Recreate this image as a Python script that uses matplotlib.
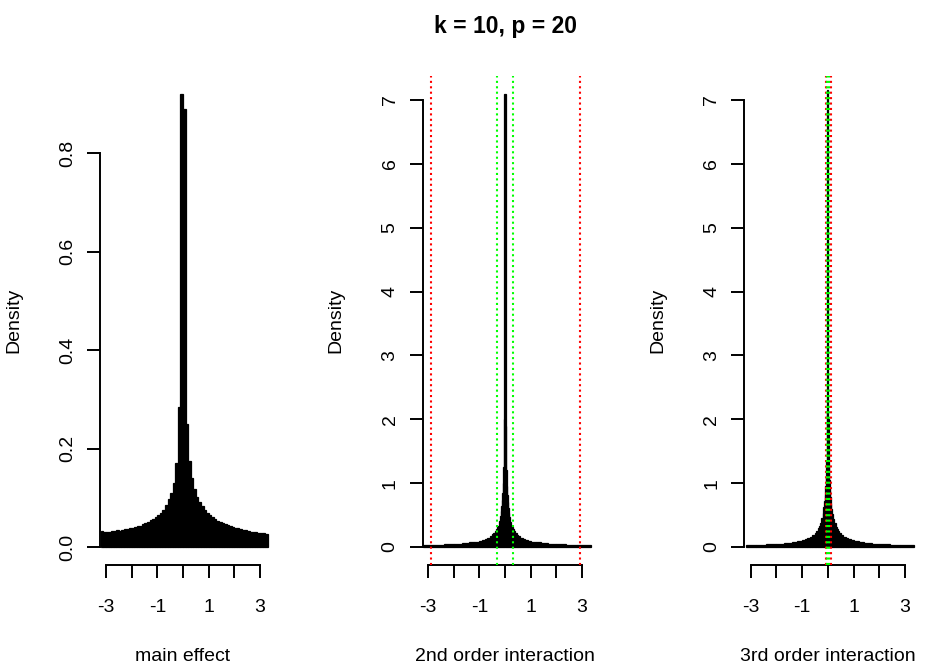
import matplotlib
matplotlib.use('Agg')
import matplotlib.pyplot as plt
import numpy as np

plt.rcParams['font.family'] = ['Liberation Sans', 'DejaVu Sans']

# main effect: density per bin, bins of 0.1 from -3.2 to 3.3
main_edges = [round(-3.2 + 0.1 * i, 2) for i in range(66)]
main_heights = [
    0.033, 0.030, 0.031, 0.030, 0.032, 0.033, 0.034, 0.033, 0.035, 0.036,
    0.037, 0.039, 0.038, 0.041, 0.043, 0.042, 0.046, 0.048, 0.050, 0.054,
    0.057, 0.060, 0.064, 0.070, 0.076, 0.085, 0.097, 0.110, 0.130, 0.170,
    0.285, 0.920, 0.890, 0.250, 0.175, 0.140, 0.118, 0.102, 0.092, 0.083,
    0.076, 0.070, 0.065, 0.060, 0.057, 0.053, 0.050, 0.048, 0.046, 0.044,
    0.042, 0.041, 0.039, 0.038, 0.036, 0.035, 0.034, 0.033, 0.031, 0.031,
    0.030, 0.029, 0.028, 0.029, 0.026,
]

# interaction histograms, bin edges (narrow near 0)
inter_edges = [
    -3.2, -2.8, -2.4, -2.0, -1.7, -1.4, -1.2, -1.0, -0.9, -0.8, -0.7, -0.6,
    -0.5, -0.45, -0.4, -0.35, -0.3, -0.25, -0.2, -0.17, -0.14, -0.12, -0.1,
    -0.08, -0.06, -0.04, -0.02,
    0.02, 0.04, 0.06, 0.08, 0.1, 0.12, 0.14, 0.17, 0.2, 0.25, 0.3,
    0.35, 0.4, 0.45, 0.5, 0.6, 0.7, 0.8, 0.9, 1.0, 1.2, 1.4, 1.7, 2.0,
    2.4, 2.8, 3.35,
]
second_heights = [
    0.030, 0.035, 0.042, 0.050, 0.060, 0.072, 0.085, 0.100, 0.112, 0.128,
    0.145, 0.170, 0.200, 0.225, 0.250, 0.285, 0.330, 0.400, 0.480, 0.560,
    0.640, 0.730, 0.850, 1.000, 1.250, 2.000,
    7.100,
    1.900, 1.200, 0.960, 0.820, 0.700, 0.610, 0.540, 0.470, 0.390,
    0.320, 0.280, 0.245, 0.220, 0.195, 0.165, 0.142, 0.125, 0.110, 0.098,
    0.084, 0.071, 0.060, 0.050, 0.042, 0.035, 0.030,
]
third_heights = [
    0.028, 0.033, 0.040, 0.050, 0.060, 0.075, 0.090, 0.108, 0.122, 0.140,
    0.160, 0.190, 0.225, 0.255, 0.290, 0.330, 0.380, 0.450, 0.540, 0.630,
    0.720, 0.820, 0.950, 1.100, 1.350, 2.100,
    7.150,
    2.000, 1.300, 1.050, 0.900, 0.780, 0.680, 0.600, 0.520, 0.440,
    0.370, 0.320, 0.280, 0.250, 0.220, 0.185, 0.158, 0.138, 0.120, 0.106,
    0.090, 0.074, 0.062, 0.052, 0.042, 0.035, 0.029,
]

# reference lines (red / green dotted)
second_red = [-2.89, 2.93]
second_green = [-0.30, 0.31]
third_red = [-0.09, 0.12]
third_green = [-0.03, 0.06]

x_ticks = [-3, -2, -1, 0, 1, 2, 3]
x_tick_labels = ['-3', '', '-1', '', '1', '', '3']
main_y_ticks = [0.0, 0.2, 0.4, 0.6, 0.8]
main_y_labels = ['0.0', '0.2', '0.4', '0.6', '0.8']
inter_y_ticks = [0, 1, 2, 3, 4, 5, 6, 7]
inter_y_labels = ['0', '1', '2', '3', '4', '5', '6', '7']

title = 'k = 10, p = 20'
x_labels = ['main effect', '2nd order interaction', '3rd order interaction']

W, H = 930, 668
AX_W = 172
AX_BOTTOM, AX_TOP = 565, 76


def make_panel(fig, left_px, center_px, px_per_unit, y_zero_px, px_per_y):
    ax = fig.add_axes([left_px / W, (H - AX_BOTTOM) / H,
                       AX_W / W, (AX_BOTTOM - AX_TOP) / H])
    ax.set_xlim((left_px - center_px) / px_per_unit,
                (left_px + AX_W - center_px) / px_per_unit)
    ax.set_ylim((y_zero_px - AX_BOTTOM) / px_per_y,
                (y_zero_px - AX_TOP) / px_per_y)
    ax.patch.set_alpha(0)
    return ax


def draw_hist(ax, edges, heights):
    edges = np.asarray(edges)
    ax.bar(edges[:-1], heights, width=np.diff(edges), align='edge',
           color='black', edgecolor='black', linewidth=0.9)


def style_panel(ax, y_ticks, y_labels, xlabel, label_x):
    for side in ['top', 'right']:
        ax.spines[side].set_visible(False)
    ax.spines['left'].set_bounds(y_ticks[0], y_ticks[-1])
    ax.spines['bottom'].set_bounds(-3, 3)
    for side in ['left', 'bottom']:
        ax.spines[side].set_linewidth(1.4)
    ax.set_xticks(x_ticks)
    ax.set_xticklabels(x_tick_labels, fontsize=14)
    ax.set_yticks(y_ticks)
    ax.set_yticklabels(y_labels, fontsize=14, rotation=90, va='center')
    ax.tick_params(axis='x', length=9.7, width=1.4, pad=14.5)
    ax.tick_params(axis='y', length=9.7, width=1.4, pad=7.7)
    ax.set_xlabel(xlabel, fontsize=14)
    ax.xaxis.set_label_coords(label_x, -0.170)
    ax.set_ylabel('Density', fontsize=14)
    ax.yaxis.set_label_coords(-78 / AX_W, 0.5)


def draw_lines(ax, xs, color):
    for x in xs:
        ax.axvline(x, color=color, lw=1.5, linestyle=(0, (1, 1.6)), zorder=3)


fig = plt.figure(figsize=(W / 100, H / 100), dpi=100)

# panel 1
ax1 = make_panel(fig, 100, 183.0, 25.67, 547, 492.5)
draw_hist(ax1, main_edges, main_heights)
style_panel(ax1, main_y_ticks, main_y_labels, x_labels[0], 83.0 / AX_W)

# panel 2
ax2 = make_panel(fig, 422.7, 505.0, 25.57, 547, 63.86)
draw_hist(ax2, inter_edges, second_heights)
draw_lines(ax2, second_red, '#ff0000')
draw_lines(ax2, second_green, '#00ff00')
style_panel(ax2, inter_y_ticks, inter_y_labels, x_labels[1], 82.3 / AX_W)

# panel 3
ax3 = make_panel(fig, 744.3, 827.85, 25.72, 547, 63.86)
draw_hist(ax3, inter_edges, third_heights)
draw_lines(ax3, third_red, '#ff0000')
draw_lines(ax3, third_green, '#00ff00')
style_panel(ax3, inter_y_ticks, inter_y_labels, x_labels[2], 83.55 / AX_W)

fig.text(505 / W, (H - 32.7) / H, title, ha='center', va='baseline',
         fontsize=16.5, fontweight='bold')

fig.savefig('out.png', dpi=100)
